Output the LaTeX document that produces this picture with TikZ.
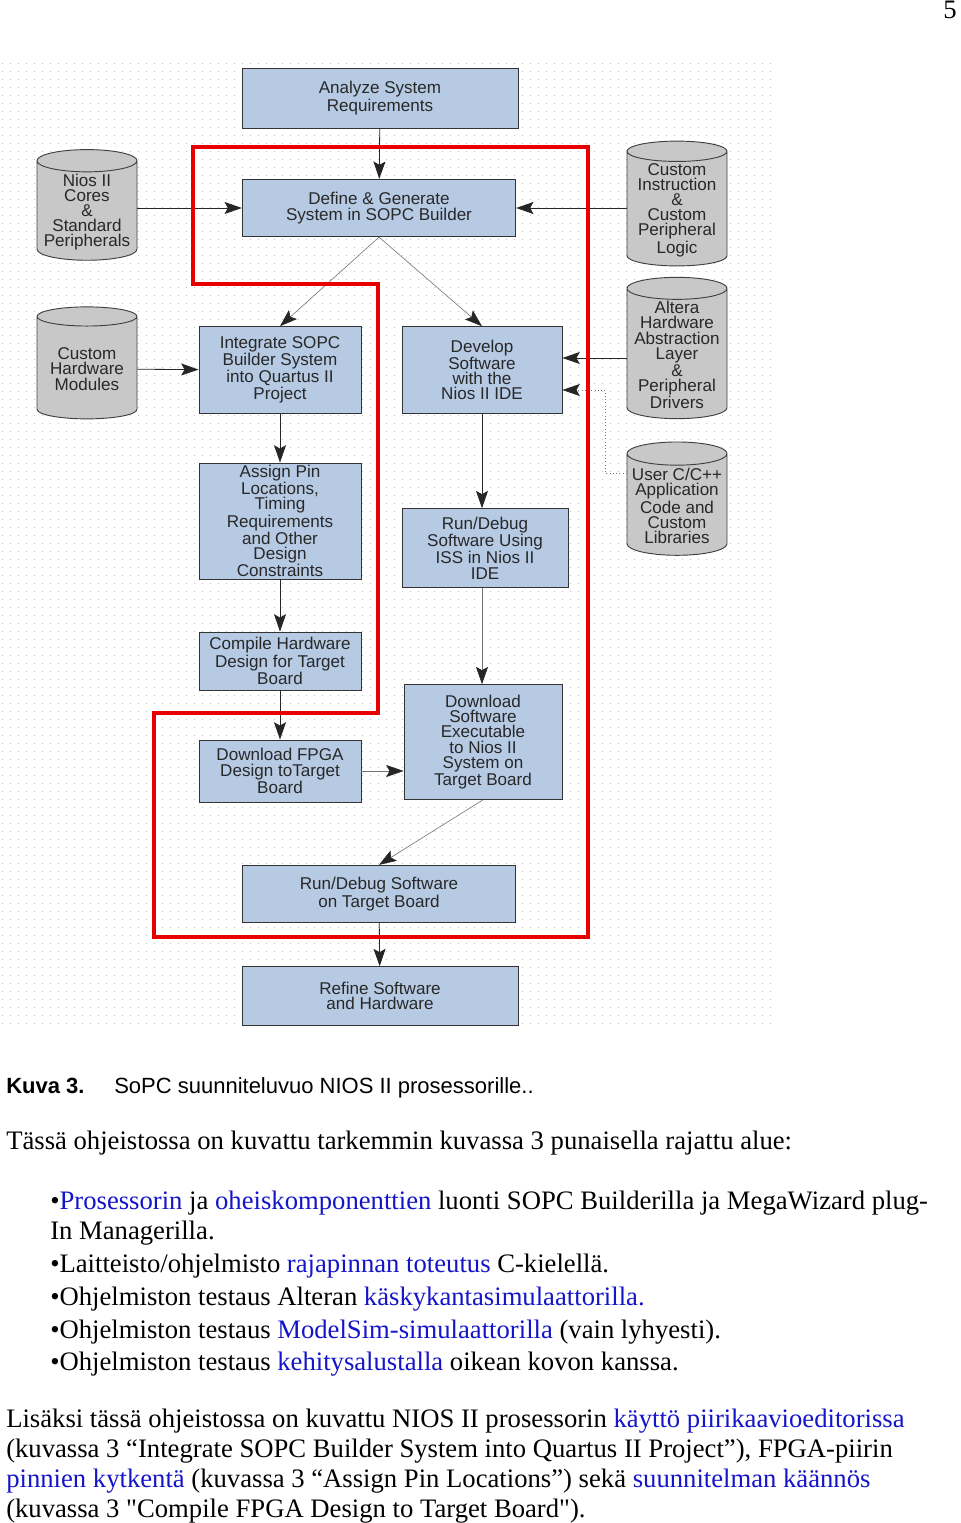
\documentclass[tikz,border=0pt]{standalone}
\usepackage{fontspec}
\setmainfont{Liberation Serif}
\setmonofont{Liberation Serif}
\newfontfamily\diagfont{Liberation Sans}
\usepackage{xcolor}
\usetikzlibrary{shapes.geometric,arrows.meta,patterns.meta}

\definecolor{boxblue}{RGB}{182,202,228}
\definecolor{cylgray}{RGB}{200,200,200}
\definecolor{framered}{RGB}{232,0,0}
\definecolor{linkblue}{RGB}{20,20,200}
\definecolor{inkgray}{RGB}{40,40,40}

\tikzdeclarepattern{name=bgdots, type=uncolored,
  bounding box={(0pt,0pt) and (6pt,6pt)}, tile size={(6pt,6pt)},
  code={\pgfpathcircle{\pgfpoint{3pt}{3pt}}{0.5pt}\pgfusepath{fill}}}

\newcommand{\diagtext}{\diagfont\fontsize{12.8}{11.4}\selectfont}
\newcommand{\bodytext}{\fontsize{20}{22.5}\selectfont}
\newcommand{\lnk}[1]{\textcolor{linkblue}{#1}}
\newcommand{\straightq}{{\ttfamily"}}

\begin{document}
\begin{tikzpicture}[x=0.75pt,y=-0.75pt,
  stage/.style={draw=black!80, line width=0.7pt, fill=boxblue, align=center,
    font=\diagtext, text=inkgray, inner sep=1pt},
  store/.style={cylinder, shape border rotate=90, aspect=0.25, draw=black!75,
    line width=0.7pt, fill=cylgray, align=center, font=\diagtext, text=inkgray,
    minimum width=75pt, inner sep=1pt},
  flow/.style={-{Stealth[length=13pt,width=9pt,inset=2.5pt,color=black!85]},
    draw=black!85, line width=0.6pt},
  aux/.style={flow, draw=black!55, line width=0.45pt},
  body/.style={anchor=base west, inner sep=0pt, font=\bodytext}]
  \useasboundingbox (0,0) rectangle (960,1523);

  % dotted backdrop of the figure
  \fill[pattern=bgdots, pattern color=black!25] (0,58) rectangle (776,1030);

  % stages
  \node[stage, minimum width=207pt, minimum height=45pt] (analyze) at (380,98)
    {Analyze System\\Requirements};
  \node[stage, minimum width=205pt, minimum height=43pt] (define) at (379,208)
    {Define \& Generate\\System in SOPC Builder};
  \node[stage, minimum width=121.5pt, minimum height=65pt] (integrate) at (280,370)
    {Integrate SOPC\\Builder System\\into Quartus II\\Project};
  \node[stage, minimum width=120pt, minimum height=65pt] (develop) at (482,370)
    {Develop\\Software\\with the\\Nios II IDE};
  \node[stage, minimum width=121.5pt, minimum height=87pt] (assign) at (280,521)
    {Assign Pin\\Locations,\\Timing\\Requirements\\and Other\\Design\\Constraints};
  \node[stage, minimum width=124.5pt, minimum height=59pt] (runiss) at (485,548)
    {Run/Debug\\Software Using\\ISS in Nios II\\IDE};
  \node[stage, minimum width=121.5pt, minimum height=43.5pt] (compile) at (280,661)
    {Compile Hardware\\Design for Target\\Board};
  \node[stage, minimum width=121.5pt, minimum height=46.5pt] (dlfpga) at (280,771)
    {Download FPGA\\Design toTarget\\Board};
  \node[stage, minimum width=118.5pt, minimum height=86pt] (dlsw) at (483,742)
    {Download\\Software\\Executable\\to Nios II\\System on\\Target Board};
  \node[stage, minimum width=205pt, minimum height=43pt] (runtarget) at (379,894)
    {Run/Debug Software\\on Target Board};
  \node[stage, minimum width=207pt, minimum height=44pt] (refine) at (380,996)
    {Refine Software\\and Hardware};

  % inputs
  \node[store, minimum height=83pt] (cores) at (87,212)
    {Nios II\\Cores\\\&\\Standard\\Peripherals};
  \node[store, minimum height=84pt] (hwmods) at (87,369)
    {Custom\\Hardware\\Modules};
  \node[store, minimum height=91pt] (custinst) at (677,210)
    {Custom\\Instruction\\\&\\Custom\\Peripheral\\Logic};
  \node[store, minimum height=106pt] (hal) at (677,355)
    {Altera\\Hardware\\Abstraction\\Layer\\\&\\Peripheral\\Drivers};
  \node[store, minimum height=85pt] (userlib) at (677,506)
    {User C/C++\\Application\\Code and\\Custom\\Libraries};

  % hardware flow
  \draw[flow] (analyze) -- (define);
  \draw[flow] (cores.east |- define) -- (define.west);
  \draw[flow] (custinst.west |- define) -- (define.east);
  \draw[aux] (define.south) -- (integrate.north);
  \draw[aux] (define.south) -- (develop.north);
  \draw[flow] (hwmods) -- (integrate);
  \draw[flow] (integrate) -- (assign);
  \draw[flow] (assign) -- (compile);
  \draw[flow] (compile) -- (dlfpga);
  \draw[aux] (dlfpga.east) -- (dlsw.west |- dlfpga.east);

  % software flow
  \draw[flow] (hal.west |- 0,358) -- (develop.east |- 0,358);
  \draw[aux, dotted] (userlib.west |- 0,473) -| (605,390) -- (develop.east |- 0,390);
  \draw[flow] (develop.south) -- (develop.south |- runiss.north);
  \draw[aux] (develop.south |- runiss.south) -- (develop.south |- dlsw.north);
  \draw[aux] (dlsw.south) -- (runtarget.north);
  \draw[flow] (runtarget) -- (refine);

  % red outline
  \draw[framered, line width=3pt] (193,147) -- (588,147) -- (588,937) -- (154,937)
    -- (154,713) -- (378,713) -- (378,284) -- (193,284) -- cycle;

  % page text
  \node[anchor=base east, inner sep=0pt, font=\fontsize{20}{20}\selectfont] (pagenum)
    at (957,19) {5};
  \node[anchor=base west, inner sep=0pt, font=\diagfont\bfseries\fontsize{16.5}{19}\selectfont]
    (capnum) at (6,1093) {Kuva 3.};
  \node[anchor=base west, inner sep=0pt, font=\diagfont\fontsize{16.5}{19}\selectfont]
    (captext) at (114,1093) {SoPC suunniteluvuo NIOS II prosessorille..};
  \node[body] (intro) at (6,1149)
    {Tässä ohjeistossa on kuvattu tarkemmin kuvassa 3 punaisella rajattu alue:};
  \node[body] (itema) at (50,1209)
    {•\lnk{Prosessorin} ja \lnk{oheiskomponenttien} luonti SOPC Builderilla ja MegaWizard plug-};
  \node[body] (itemb) at (50,1239) {In Managerilla.};
  \node[body] (itemc) at (50,1272)
    {•Laitteisto/ohjelmisto \lnk{rajapinnan toteutus} C-kielellä.};
  \node[body] (itemd) at (50,1305)
    {•Ohjelmiston testaus Alteran \lnk{käskykantasimulaattorilla.}};
  \node[body] (iteme) at (50,1338)
    {•Ohjelmiston testaus \lnk{ModelSim-simulaattorilla} (vain lyhyesti).};
  \node[body] (itemf) at (50,1370)
    {•Ohjelmiston testaus \lnk{kehitysalustalla} oikean kovon kanssa.};
  \node[body] (morea) at (6,1427)
    {Lisäksi tässä ohjeistossa on kuvattu NIOS II prosessorin \lnk{käyttö piirikaavioeditorissa}};
  \node[body] (moreb) at (6,1457)
    {(kuvassa 3 “Integrate SOPC Builder System into Quartus II Project”), FPGA-piirin};
  \node[body] (morec) at (6,1487)
    {\lnk{pinnien kytkentä} (kuvassa 3 “Assign Pin Locations”) sekä \lnk{suunnitelman käännös}};
  \node[body] (mored) at (6,1517)
    {(kuvassa 3 \straightq Compile FPGA Design to Target Board\straightq).};
\end{tikzpicture}
\end{document}
